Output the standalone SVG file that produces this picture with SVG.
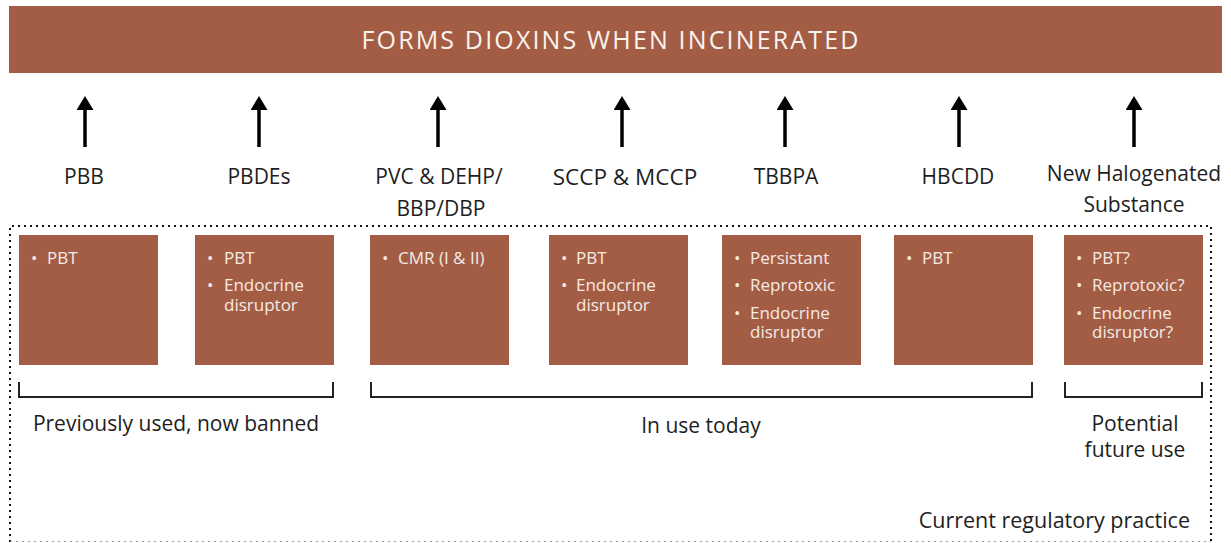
<svg xmlns="http://www.w3.org/2000/svg" width="1231" height="543" viewBox="0 0 1231 543">
<style>
.fill{fill:#a35d45}
.lbl{font-family:"Open Sans","Noto Sans",sans-serif;font-size:21px;fill:#1e1e1e;text-anchor:middle}
.bx{font-family:"Open Sans","Noto Sans",sans-serif;font-size:17px;fill:#f6ebe6}
.br{fill:none;stroke:#222;stroke-width:2}
.ar{stroke:#000;stroke-width:3.5;marker-end:url(#ah)}
.dot{fill:none;stroke:#111;stroke-width:2;stroke-dasharray:2 4}
</style>
<defs>
<marker id="ah" markerUnits="userSpaceOnUse" markerWidth="14" markerHeight="17" refX="0" refY="8.5" orient="auto" viewBox="0 0 14 17">
<path d="M0,0 L14,8.5 L0,17 Z" fill="#000"/>
</marker>
</defs>
<rect width="1231" height="543" fill="#fff"/>
<g id="banner">
<rect class="fill" x="9" y="6" width="1213" height="67"/>
<text x="611" y="49" font-family="'Open Sans','Noto Sans',sans-serif" font-size="25" letter-spacing="2.15" fill="#fbf3ef" text-anchor="middle">FORMS DIOXINS WHEN INCINERATED</text>
</g>
<g id="connectors">
<line class="ar" x1="85" y1="147" x2="85" y2="110"/>
<line class="ar" x1="259" y1="147" x2="259" y2="110"/>
<line class="ar" x1="438" y1="147" x2="438" y2="110"/>
<line class="ar" x1="622" y1="147" x2="622" y2="110"/>
<line class="ar" x1="785" y1="147" x2="785" y2="110"/>
<line class="ar" x1="959" y1="147" x2="959" y2="110"/>
<line class="ar" x1="1134" y1="147" x2="1134" y2="110"/>
</g>
<g id="frame">
<path class="dot" d="M10,542 V226 H1211 V542"/>
<path d="M10,541.5 H1211" stroke="#999" stroke-width="1" stroke-dasharray="2 4"/>
<text x="1190" y="528" class="lbl" style="text-anchor:end;font-size:21.5px">Current regulatory practice</text>
</g>
<g id="n1">
<text x="84" y="184" class="lbl">PBB</text>
<rect class="fill" x="19" y="235" width="139" height="130"/>
<text class="bx" x="31" y="264">•</text><text class="bx" x="47" y="264">PBT</text>
</g>
<g id="n2">
<text x="259" y="184" class="lbl">PBDEs</text>
<rect class="fill" x="195" y="235" width="139" height="130"/>
<text class="bx" x="207" y="264">•</text><text class="bx" x="224" y="264">PBT</text>
<text class="bx" x="207" y="291">•</text><text class="bx" x="224" y="291">Endocrine</text>
<text class="bx" x="224" y="311">disruptor</text>
</g>
<g id="n3">
<text x="439" y="184" class="lbl">PVC &amp; DEHP/</text>
<text x="441" y="216" class="lbl">BBP/DBP</text>
<rect class="fill" x="370" y="235" width="139" height="130"/>
<text class="bx" x="382" y="264">•</text><text class="bx" x="398" y="264">CMR (I &amp; II)</text>
</g>
<g id="n4">
<text x="625" y="185" class="lbl" style="font-size:22.5px">SCCP &amp; MCCP</text>
<rect class="fill" x="549" y="235" width="139" height="130"/>
<text class="bx" x="561" y="264">•</text><text class="bx" x="576" y="264">PBT</text>
<text class="bx" x="561" y="291">•</text><text class="bx" x="576" y="291">Endocrine</text>
<text class="bx" x="576" y="311">disruptor</text>
</g>
<g id="n5">
<text x="786" y="184" class="lbl">TBBPA</text>
<rect class="fill" x="722" y="235" width="139" height="130"/>
<text class="bx" x="734" y="264">•</text><text class="bx" x="750" y="264">Persistant</text>
<text class="bx" x="734" y="291">•</text><text class="bx" x="750" y="291">Reprotoxic</text>
<text class="bx" x="734" y="319">•</text><text class="bx" x="750" y="319">Endocrine</text>
<text class="bx" x="750" y="338">disruptor</text>
</g>
<g id="n6">
<text x="958" y="184" class="lbl">HBCDD</text>
<rect class="fill" x="894" y="235" width="139" height="130"/>
<text class="bx" x="906" y="264">•</text><text class="bx" x="922" y="264">PBT</text>
</g>
<g id="n7">
<text x="1134" y="181" class="lbl">New Halogenated</text>
<text x="1134" y="212" class="lbl">Substance</text>
<rect class="fill" x="1064" y="235" width="139" height="130"/>
<text class="bx" x="1076" y="264">•</text><text class="bx" x="1092" y="264">PBT?</text>
<text class="bx" x="1076" y="291">•</text><text class="bx" x="1092" y="291">Reprotoxic?</text>
<text class="bx" x="1076" y="319">•</text><text class="bx" x="1092" y="319">Endocrine</text>
<text class="bx" x="1092" y="338">disruptor?</text>
</g>
<g id="groups">
<path class="br" d="M19,382 V397 H333 V382"/>
<text x="176" y="431" class="lbl">Previously used, now banned</text>
<path class="br" d="M371,382 V397 H1032 V382"/>
<text x="701" y="433" class="lbl">In use today</text>
<path class="br" d="M1065,382 V397 H1202 V382"/>
<text x="1135" y="431" class="lbl">Potential</text>
<text x="1135" y="457" class="lbl">future use</text>
</g>
</svg>
